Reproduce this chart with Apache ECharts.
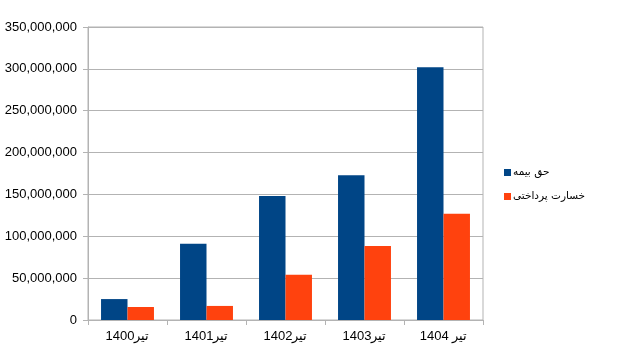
<!DOCTYPE html>
<html><head><meta charset="utf-8">
<script src="https://cdn.jsdelivr.net/npm/echarts@6/dist/echarts.min.js"></script>
<style>html,body{margin:0;padding:0;background:#fff}#c{width:630px;height:356px}</style>
</head><body><div id="c"></div>
<script>
const categories = ['تیر1400','تیر1401','تیر1402','تیر1403','تیر 1404'];
const premium = [25000000, 91000000, 148000000, 173000000, 302000000];
const claims = [15500000, 16800000, 54000000, 88500000, 127000000];
const seriesNames = ['حق بیمه','خسارت پرداختی'];
const chart = echarts.init(document.getElementById('c'), null, {renderer:'canvas'});
const fmt = v => v.toLocaleString('en-US');
chart.setOption({
  animation:false,
  textStyle:{fontFamily:'Liberation Sans, Arial, sans-serif'},
  grid:{left:88,right:147,top:27,bottom:36,show:true,borderColor:'#b3b3b3',borderWidth:1},
  legend:{orient:'vertical',left:499,top:162,itemWidth:7,itemHeight:7,itemGap:13,icon:'rect',
    textStyle:{fontSize:10.5,color:'#000',fontFamily:'DejaVu Sans, sans-serif',padding:[0,0,0,-3]},
    data:seriesNames},
  xAxis:{type:'category',data:categories,
    axisLine:{lineStyle:{color:'#b3b3b3'}},
    axisTick:{show:true,length:5,lineStyle:{color:'#b3b3b3'}},
    axisLabel:{color:'#000',fontSize:13,margin:10}},
  yAxis:{type:'value',min:0,max:350000000,interval:50000000,
    axisLine:{show:true,lineStyle:{color:'#b3b3b3'}},
    axisTick:{show:true,length:5,lineStyle:{color:'#b3b3b3'}},
    splitLine:{lineStyle:{color:'#b3b3b3'}},
    axisLabel:{color:'#000',fontSize:13,margin:11,formatter:fmt}},
  series:[
    {name:seriesNames[0],type:'bar',data:premium,itemStyle:{color:'#004586'},barGap:'0%',barCategoryGap:'33%'},
    {name:seriesNames[1],type:'bar',data:claims,itemStyle:{color:'#ff420e'}}
  ]
});
</script></body></html>
